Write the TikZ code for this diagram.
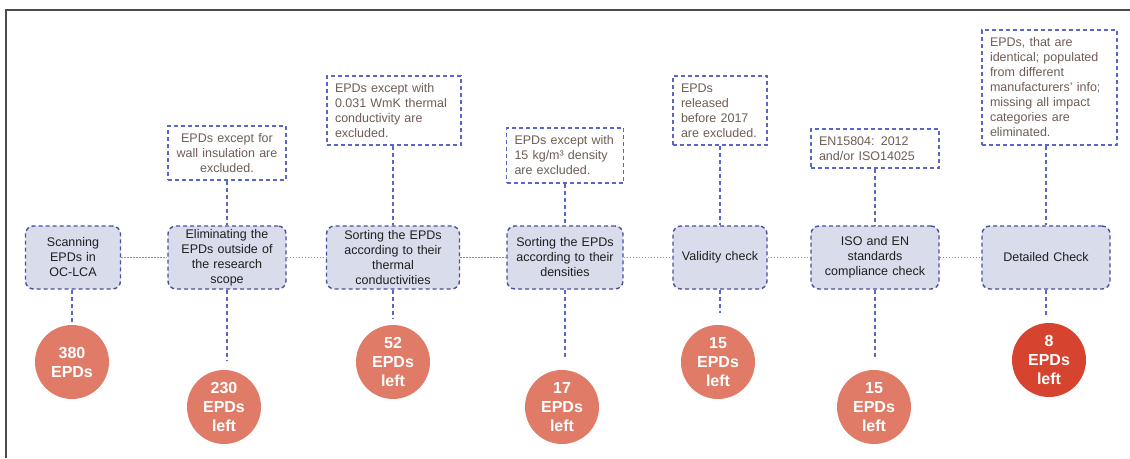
\documentclass[tikz,border=0pt]{standalone}
\usepackage{fontspec}
\setmainfont{Liberation Sans}
\usepackage{tikz}

\definecolor{boxfill}{HTML}{D9DCEA}
\definecolor{boxline}{HTML}{4B4F9C}
\definecolor{noteline}{HTML}{5A66C8}
\definecolor{linkline}{HTML}{7F8BD0}
\definecolor{notetext}{HTML}{6E5C55}
\definecolor{countfill}{HTML}{E07B67}
\definecolor{finalfill}{HTML}{D6432F}

\begin{document}
\begin{tikzpicture}[x=1pt, y=-1pt]
    \tikzstyle{stage}=[rectangle,draw=boxline,fill=boxfill,dash pattern=on 4pt off 3pt,line width=1.4pt,rounded corners=8pt,align=center,minimum height=63pt,inner sep=3pt,text=black!88,font=\fontsize{12.5}{15}\selectfont]
    \tikzstyle{note}=[rectangle,draw=noteline,dash pattern=on 4pt off 3pt,line width=1.3pt,align=left,inner xsep=8pt,inner ysep=4pt,text=notetext,font=\fontsize{12.5}{15}\selectfont]
    \tikzstyle{count}=[circle,fill=countfill,minimum size=74pt,inner sep=0pt,align=center,text=white,font=\fontsize{16}{19}\selectfont\bfseries]
    \tikzstyle{link}=[draw=noteline,line width=1.3pt,dash pattern=on 4pt off 3pt]
    \tikzstyle{timeline}=[draw=linkline,line width=1.6pt,dash pattern=on 1.5pt off 1.5pt]
    \useasboundingbox (0,0) rectangle (1130,458);
    \draw[line width=2pt,black!70] (6,458) -- (6,10) -- (1130,10);

    % stages
    \node[stage,minimum width=95pt,text width=89pt] (scan) at (73,257.5) {Scanning\\EPDs in\\OC-LCA};
    \node[stage,minimum width=118pt,text width=112pt] (scope) at (227,257.5) {Eliminating the\\EPDs outside of\\the research\\scope};
    \node[stage,minimum width=133pt,text width=127pt] (cond) at (393,257.5) {Sorting the EPDs\\according to their\\thermal\\conductivities};
    \node[stage,minimum width=116pt,text width=110pt] (dens) at (565,257.5) {Sorting the EPDs\\according to their\\densities};
    \node[stage,minimum width=94pt,text width=88pt] (valid) at (720,257.5) {Validity check};
    \node[stage,minimum width=128pt,text width=122pt] (stds) at (875,257.5) {ISO and EN\\standards\\compliance check};
    \node[stage,minimum width=128pt,text width=122pt] (detail) at (1046,257.5) {Detailed Check};

    % criteria
    \node[note,align=center,text width=102pt,minimum height=54pt] (n_scope) at (227,153) {EPDs except for\\wall insulation are\\excluded.};
    \node[note,text width=118pt,minimum height=69pt] (n_cond) at (394,110.5) {EPDs except with\\0.031 WmK thermal\\conductivity are\\excluded.};
    \node[note,text width=101pt,minimum height=55pt] (n_dens) at (565,155.5) {EPDs except with\\15 kg/m³ density\\are excluded.};
    \node[note,text width=78pt,minimum height=69pt] (n_valid) at (720,110.5) {EPDs\\released\\before 2017\\are excluded.};
    \node[note,text width=112pt,minimum height=39pt] (n_stds) at (875,148.5) {EN15804: 2012\\and/or ISO14025};
    \node[note,text width=119pt,minimum height=115pt] (n_detail) at (1049.5,87.5) {EPDs, that are\\identical; populated\\from different\\manufacturers' info;\\missing all impact\\categories are\\eliminated.};

    % counts
    \node[count] (c_scan) at (72,362) {380\\EPDs};
    \node[count] (c_scope) at (224,407) {230\\EPDs\\left};
    \node[count] (c_cond) at (393,362) {52\\EPDs\\left};
    \node[count] (c_dens) at (562,407) {17\\EPDs\\left};
    \node[count] (c_valid) at (718,362) {15\\EPDs\\left};
    \node[count] (c_stds) at (874,407) {15\\EPDs\\left};
    \node[count,fill=finalfill] (c_detail) at (1049,360) {8\\EPDs\\left};

    \draw[timeline] (scan.east) -- (scope.west);
    \draw[timeline] (scope.east) -- (cond.west);
    \draw[timeline] (cond.east) -- (dens.west);
    \draw[timeline] (dens.east) -- (valid.west);
    \draw[timeline] (valid.east) -- (stds.west);
    \draw[timeline] (stds.east) -- (detail.west);

    \draw[link] (n_scope.south) -- (scope.north);
    \draw[link] (cond.north |- n_cond.south) -- (cond.north);
    \draw[link] (n_dens.south) -- (dens.north);
    \draw[link] (n_valid.south) -- (valid.north);
    \draw[link] (n_stds.south) -- (stds.north);
    \draw[link] (detail.north |- n_detail.south) -- (detail.north);

    \draw[link,shorten >=2pt] (c_scan |- scan.south) -- (c_scan.north);
    \draw[link,shorten >=10pt] (scope.south) -- (scope.south |- c_scope.north);
    \draw[link,shorten >=7pt] (cond.south) -- (cond.south |- c_cond.north);
    \draw[link,shorten >=13pt] (dens.south) -- (dens.south |- c_dens.north);
    \draw[link,shorten >=12pt] (valid.south) -- (valid.south |- c_valid.north);
    \draw[link,shorten >=12pt] (stds.south) -- (stds.south |- c_stds.north);
    \draw[link,shorten >=6pt] (detail.south) -- (detail.south |- c_detail.north);
  \end{tikzpicture}
\end{document}
